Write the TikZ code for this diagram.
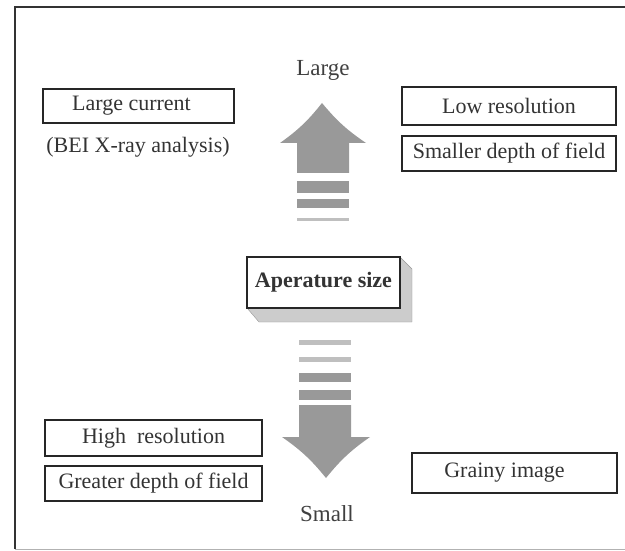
\documentclass[tikz,border=0pt]{standalone}
\usepackage{fontspec}
\setmainfont{Liberation Serif}

\begin{document}
\begin{tikzpicture}[x=1pt, y=-1pt,
    box/.style={draw=black!85, line width=1.8pt, inner sep=0pt, text=black!80,
      font=\fontsize{22}{26}\selectfont},
    label text/.style={text=black!80, font=\fontsize{22}{26}\selectfont},
    end text/.style={text=black!75, font=\fontsize{23}{27}\selectfont},
    arrow body/.style={fill=black!40},
    light bar/.style={fill=black!25}]
    \useasboundingbox (0,0) rectangle (625,551);
    \draw[line width=2pt, black!80] (625,7) -- (15,7) -- (15,549);
    \draw[line width=0.8pt, black!30] (15,549) -- (625,549);

    \node[end text] (large) at (323,70) {Large};
    \node[end text] (small) at (327,514) {Small};

    \node[box, minimum width=191pt, minimum height=34pt] (current) at (138.5,106) {Large current\hspace*{14pt}};
    \node[label text] (bei) at (138,147) {(BEI X-ray analysis)};
    \node[box, minimum width=214pt, minimum height=38pt] (lowres) at (509,106) {Low resolution};
    \node[box, minimum width=214pt, minimum height=35pt] (smalldof) at (509,153.5) {Smaller depth of field};
    \node[box, minimum width=217pt, minimum height=36pt] (highres) at (153.5,438) {High\ \ resolution};
    \node[box, minimum width=217pt, minimum height=35pt] (greatdof) at (153.5,483.5) {Greater depth of field};
    \node[box, minimum width=205pt, minimum height=40pt] (grainy) at (514.5,473) {Grainy image\hspace*{20pt}};

    \fill[black!20, draw=black!40] (400,257) -- (412,269) -- (412,322) -- (259,322) -- (247,308) -- (400,308) -- cycle;
    \node[box, minimum width=153pt, minimum height=51pt, fill=white,
      font=\fontsize{22}{26}\selectfont\bfseries] (aperture) at (323.5,282.5) {Aperature size};

    \fill[arrow body] (297,173) -- (297,143) -- (280,143) to[bend right=8] (322,103)
      to[bend right=8] (366,143) -- (349,143) -- (349,173) -- cycle;
    \fill[arrow body] (297,181) rectangle (349,193);
    \fill[arrow body] (297,199) rectangle (349,208);
    \fill[light bar] (297,218) rectangle (349,221);

    \fill[light bar] (299,340) rectangle (351,345);
    \fill[light bar] (299,357) rectangle (351,362);
    \fill[arrow body] (299,373) rectangle (351,382);
    \fill[arrow body] (299,390) rectangle (351,400);
    \fill[arrow body] (299,405) -- (299,437) -- (282,437) to[bend left=8] (326,478)
      to[bend left=8] (370,437) -- (351,437) -- (351,405) -- cycle;
\end{tikzpicture}
\end{document}
